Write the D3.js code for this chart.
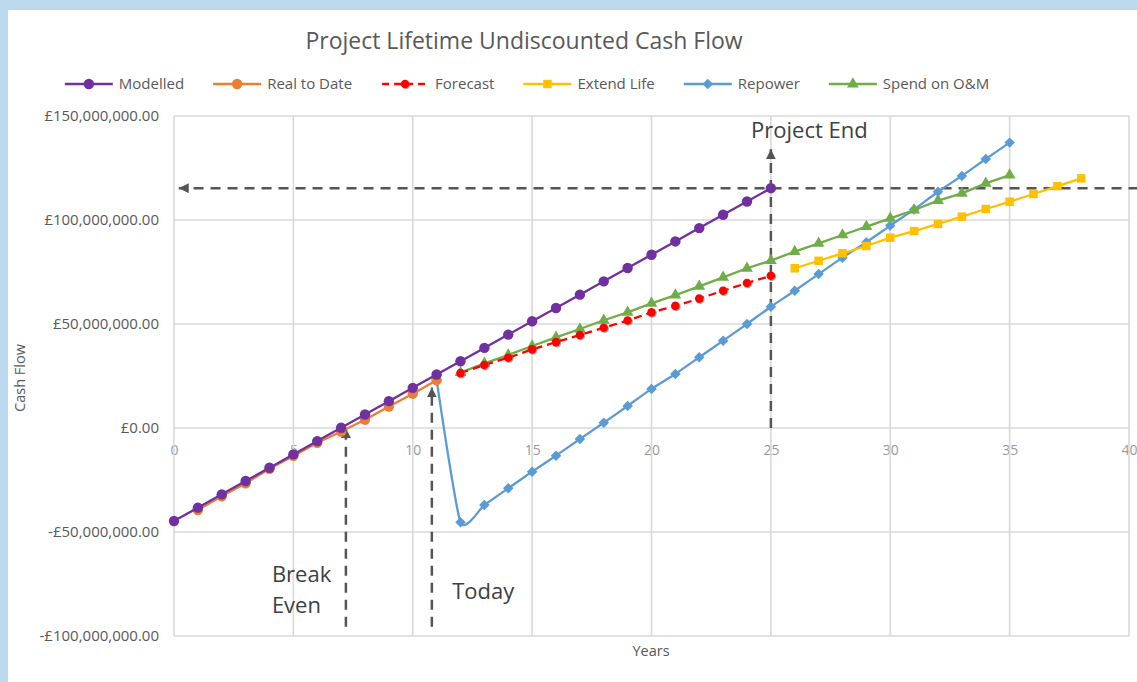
<!DOCTYPE html>
<head>
  <meta charset="utf-8">
  <title>Project Lifetime Undiscounted Cash Flow</title>
  <script src="https://cdn.jsdelivr.net/npm/d3@7"></script>
  <style>
    body { margin: 0; background: #fff; }
    text { font-family: "Open Sans", sans-serif; }
  </style>
</head>

<body>
  <div id="chart"></div>
</body>

<script>
  // all values in £ millions, one per year starting at the given year
  var modelledStart = 0;
  var modelled = [-44.7, -38.3, -31.9, -25.5, -19.1, -12.7, -6.3, 0.1, 6.5, 12.9, 19.3, 25.7, 32.1,
                  38.5, 44.9, 51.3, 57.7, 64.1, 70.5, 76.9, 83.3, 89.7, 96.1, 102.5, 108.9, 115.3];
  var realStart = 1;
  var realToDate = [-39.4, -32.8, -26.6, -19.6, -13.4, -7.1, -1.7, 4.0, 10.3, 16.5, 23.0];
  var forecastStart = 12;
  var forecast = [26.4, 30.3, 33.8, 37.8, 41.3, 44.7, 48.2, 51.7, 55.6, 58.7, 62.2, 66.0, 69.7, 73.2];
  var extendStart = 26;
  var extendLife = [76.8, 80.4, 84.0, 87.5, 91.5, 94.7, 98.1, 101.6, 105.3, 108.8, 112.5, 116.3, 120.0];
  var repowerStart = 11;
  var repower = [23.0, -45.3, -37.0, -29.0, -21.0, -13.3, -5.3, 2.5, 10.6, 18.8, 26.0, 34.0, 42.0,
                 50.0, 58.3, 66.0, 74.0, 81.9, 89.3, 97.3, 105.1, 113.6, 121.2, 129.3, 137.2];
  var omStart = 12;
  var spendOM = [26.6, 31.1, 35.1, 39.4, 43.6, 47.6, 51.8, 55.6, 59.9, 63.9, 68.1, 72.4, 76.8, 80.5,
                 84.8, 88.8, 92.8, 96.8, 100.8, 104.8, 109.3, 112.8, 117.6, 121.6];

  var xTicks = [0, 5, 10, 15, 20, 25, 30, 35, 40];
  var yTicks = [-100, -50, 0, 50, 100, 150];

  // annotation arrows: from [year, £M] to arrow tip [year, £M]
  var arrows = [
    {from: [7.2, -95.5], to: [7.2, 0]},
    {from: [10.8, -95.5], to: [10.8, 19.5]},
    {from: [25, 0], to: [25, 134]},
    {from: [40.4, 115.3], to: [0.2, 115.3]}
  ];
  var notes = [
    {text: "Break", at: [4.1, -74.0]},
    {text: "Even", at: [4.1, -89.0]},
    {text: "Today", at: [11.65, -82.0]},
    {text: "Project End", at: [24.17, 139.5]}
  ];

  var width = 1137, height = 682;
  var plot = {left: 174, right: 1129, top: 116, bottom: 636};

  var x = d3.scaleLinear().domain([0, 40]).range([plot.left, plot.right]);
  var y = d3.scaleLinear().domain([-100, 150]).range([plot.bottom, plot.top]);

  var svg = d3.select("#chart")
    .append("svg")
    .attr("width", width)
    .attr("height", height);

  // light blue frame of the screenshot
  svg.append("rect").attr("width", width).attr("height", height).attr("fill", "#bdd9f0");
  svg.append("rect").attr("x", 8).attr("y", 10).attr("width", width - 8).attr("height", height - 10).attr("fill", "#fff");

  var defs = svg.append("defs");
  defs.append("marker")
    .attr("id", "arrow")
    .attr("viewBox", "0 -5 10 10")
    .attr("refX", 10).attr("refY", 0)
    .attr("markerUnits", "userSpaceOnUse")
    .attr("markerWidth", 10).attr("markerHeight", 10)
    .attr("orient", "auto")
    .append("path").attr("d", "M0,-5L10,0L0,5Z").attr("fill", "#555");
  var shadow = defs.append("filter").attr("id", "shadow")
    .attr("x", "-50%").attr("y", "-50%").attr("width", "200%").attr("height", "200%");
  shadow.append("feDropShadow").attr("dx", 0.8).attr("dy", 0.8)
    .attr("stdDeviation", 0.7).attr("flood-color", "#666").attr("flood-opacity", 0.7);

  // title
  svg.append("text")
    .attr("x", 524).attr("y", 49)
    .attr("text-anchor", "middle")
    .attr("font-size", 23)
    .attr("fill", "#595959")
    .text("Project Lifetime Undiscounted Cash Flow");

  // x tick labels sit on the zero line, under the grid and the series
  var money = function(v) {
    return (v < 0 ? "-" : "") + "£" + d3.format(",.2f")(Math.abs(v) * 1e6);
  };
  var xAxis = svg.append("g")
    .attr("transform", "translate(0," + y(0) + ")")
    .call(d3.axisBottom(x).tickValues(xTicks).tickSize(0).tickPadding(17));
  xAxis.select(".domain").remove();
  xAxis.selectAll("text").attr("font-size", 14).attr("font-family", "Open Sans").attr("fill", "#999");

  // grid
  svg.append("g").selectAll("line").data(xTicks).join("line")
    .attr("x1", d => x(d)).attr("x2", d => x(d))
    .attr("y1", plot.top).attr("y2", plot.bottom)
    .attr("stroke", "#d9d9d9").attr("stroke-width", 1.6);
  svg.append("g").selectAll("line").data(yTicks).join("line")
    .attr("x1", plot.left).attr("x2", plot.right)
    .attr("y1", d => y(d)).attr("y2", d => y(d))
    .attr("stroke", "#d9d9d9").attr("stroke-width", 1.6);

  var yAxis = svg.append("g")
    .attr("transform", "translate(" + plot.left + ",0)")
    .call(d3.axisLeft(y).tickValues(yTicks).tickSize(0).tickPadding(15).tickFormat(money));
  yAxis.select(".domain").remove();
  yAxis.selectAll("text").attr("font-size", 15).attr("font-family", "Open Sans").attr("fill", "#595959");

  // axis titles
  svg.append("text")
    .attr("transform", "translate(25,378) rotate(-90)")
    .attr("text-anchor", "middle")
    .attr("font-size", 14.5).attr("fill", "#595959")
    .text("Cash Flow");
  svg.append("text")
    .attr("x", 651).attr("y", 656)
    .attr("text-anchor", "middle")
    .attr("font-size", 14.5).attr("fill", "#595959")
    .text("Years");

  // annotations (behind the series)
  svg.append("g").selectAll("line").data(arrows).join("line")
    .attr("x1", d => x(d.from[0])).attr("y1", d => y(d.from[1]))
    .attr("x2", d => x(d.to[0])).attr("y2", d => y(d.to[1]))
    .attr("stroke", "#555")
    .attr("stroke-width", 2.5)
    .attr("stroke-dasharray", "10,7")
    .attr("marker-end", "url(#arrow)");
  svg.append("g").selectAll("text").data(notes).join("text")
    .attr("x", d => x(d.at[0])).attr("y", d => y(d.at[1]))
    .attr("font-size", 22).attr("fill", "#404040")
    .text(d => d.text);

  // series
  var symbols = {
    circle: d3.symbol().type(d3.symbolCircle).size(85),
    dot: d3.symbol().type(d3.symbolCircle).size(58),
    square: d3.symbol().type(d3.symbolSquare).size(72),
    diamond: d3.symbol().type(d3.symbolDiamond2).size(70),
    triangle: d3.symbol().type(d3.symbolTriangle).size(60)
  };
  var series = [
    {name: "Modelled", values: modelled, start: modelledStart, color: "#7030a0", marker: "circle"},
    {name: "Real to Date", values: realToDate, start: realStart, color: "#ed7d31", marker: "circle"},
    {name: "Forecast", values: forecast, start: forecastStart, color: "#ff0000", marker: "dot", dash: "8,5"},
    {name: "Extend Life", values: extendLife, start: extendStart, color: "#ffc000", marker: "square"},
    {name: "Repower", values: repower, start: repowerStart, color: "#5b9bd5", marker: "diamond", smooth: true},
    {name: "Spend on O&M", values: spendOM, start: omStart, color: "#70ad47", marker: "triangle"}
  ];

  var drawOrder = [4, 3, 5, 2, 1, 0];
  drawOrder.forEach(function(i) {
    var s = series[i];
    var pts = s.values.map(function(v, k) { return [s.start + k, v]; });
    var line = d3.line()
      .x(d => x(d[0]))
      .y(d => y(d[1]))
      .curve(s.smooth ? d3.curveCardinal.tension(0.45) : d3.curveLinear);
    svg.append("path")
      .datum(pts)
      .attr("fill", "none")
      .attr("stroke", s.color)
      .attr("stroke-width", 2.3)
      .attr("stroke-dasharray", s.dash || null)
      .attr("d", line);
    svg.append("g").selectAll("path").data(pts).join("path")
      .attr("transform", d => "translate(" + x(d[0]) + "," + y(d[1]) + ")")
      .attr("d", symbols[s.marker])
      .attr("fill", s.color)
      .attr("filter", s.marker == "dot" ? "url(#shadow)" : null);
  });

  // legend, centred under the title
  var legend = svg.append("g").attr("transform", "translate(0,84)");
  var items = legend.selectAll("g").data(series).join("g");
  items.append("line")
    .attr("x1", 0).attr("x2", 48)
    .attr("stroke", d => d.color)
    .attr("stroke-width", 2.3)
    .attr("stroke-dasharray", d => d.dash ? "7,5" : null)
    .attr("stroke-dashoffset", d => d.dash ? -1 : null);
  items.append("path")
    .attr("transform", "translate(24,0)")
    .attr("d", d => symbols[d.marker]())
    .attr("fill", d => d.color)
    .attr("filter", d => d.marker == "dot" ? "url(#shadow)" : null);
  items.append("text")
    .attr("x", 54).attr("dy", "0.35em")
    .attr("font-size", 15).attr("fill", "#595959")
    .text(d => d.name);

  var widths = [];
  items.each(function() { widths.push(this.getBBox().width); });
  var gap = 29;
  var total = d3.sum(widths) + gap * (widths.length - 1);
  var pos = 527 - total / 2;
  items.attr("transform", function(d, i) {
    var t = "translate(" + pos + ",0)";
    pos += widths[i] + gap;
    return t;
  });
</script>
